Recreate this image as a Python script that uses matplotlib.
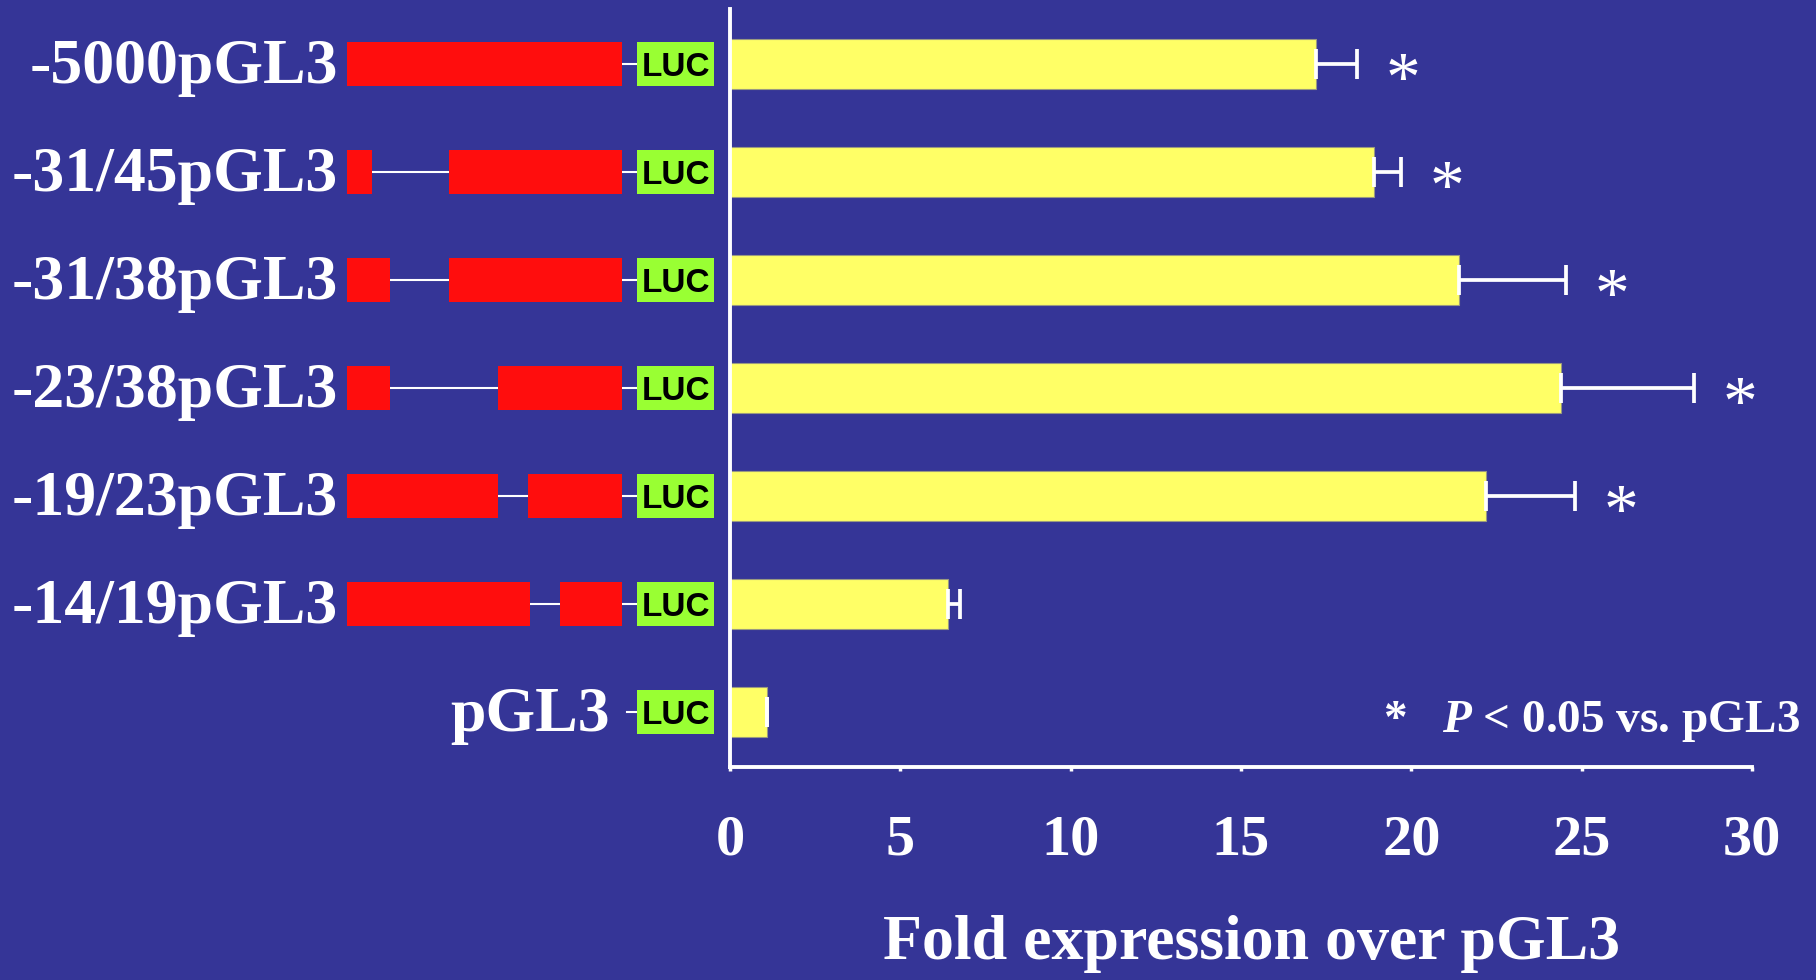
import matplotlib.pyplot as plt
from matplotlib.patches import Rectangle

plt.rcParams['mathtext.fontset'] = 'custom'
plt.rcParams['mathtext.it'] = 'Liberation Serif:italic:bold'
plt.rcParams['mathtext.rm'] = 'Liberation Serif:bold'

# data
constructs = ['-5000pGL3', '-31/45pGL3', '-31/38pGL3', '-23/38pGL3',
              '-19/23pGL3', '-14/19pGL3', 'pGL3']
fold = [17.2, 18.9, 21.4, 24.4, 22.2, 6.4, 1.1]
sem = [1.2, 0.8, 3.15, 3.9, 2.6, 0.35, 0.0]
significant = [True, True, True, True, True, False, False]

# promoter pieces kept in each construct (0-100 = full -5000 region)
promoter_parts = [
    [(0, 100)],
    [(0, 9), (37, 100)],
    [(0, 15.5), (37, 100)],
    [(0, 15.5), (55, 100)],
    [(0, 55), (66, 100)],
    [(0, 66.5), (77.5, 100)],
    [],
]
luc_start, luc_end = 105.5, 133.5

ticks = [0, 5, 10, 15, 20, 25, 30]

bg = '#353597'
red = '#ff0d0d'
green = '#99ff33'
yellow = '#ffff66'
serif = 'Liberation Serif'

fig = plt.figure(figsize=(18.16, 9.8), dpi=100, facecolor=bg)

rows = list(range(len(constructs)))

# bar chart
ax = fig.add_axes([730 / 1816, 213 / 980, 1022 / 1816, 758 / 980])
ax.set_facecolor(bg)
ax.barh(rows, fold, height=0.47, color=yellow, edgecolor='#9a9a80',
        linewidth=0.8, zorder=2)
ax.errorbar(fold, rows, xerr=[[0] * len(sem), sem], fmt='none',
            ecolor='white', elinewidth=2.7, capsize=10.5, capthick=2.7,
            zorder=3)
for r, v, e, s in zip(rows, fold, sem, significant):
    if s:
        ax.text(v + e + 1.35, r + 0.33, '*', color='white', fontsize=50,
                fontfamily=serif, fontweight='normal', ha='center',
                va='baseline')
ax.set_xlim(0, 30)
ax.set_ylim(6.51, -0.51)
ax.set_yticks([])
ax.set_xticks(ticks)
ax.set_xticklabels([str(t) for t in ticks], fontsize=42, fontfamily=serif,
                   fontweight='bold', color='white')
ax.tick_params(axis='x', direction='out', length=3, width=2.5,
               color='white', pad=31)
for side in ['top', 'right']:
    ax.spines[side].set_visible(False)
for side in ['left', 'bottom']:
    ax.spines[side].set_color('white')
    ax.spines[side].set_linewidth(2.8)
ax.set_xlabel('Fold expression over pGL3', fontsize=46, fontfamily=serif,
              fontweight='bold', color='white')
ax.xaxis.label.set_verticalalignment('baseline')
ax.xaxis.set_label_coords(0.51, -0.253)
ax.text(31.4, 6.19, '*   $P$ < 0.05 vs. pGL3', fontsize=34,
        fontfamily=serif, fontweight='bold', color='white', ha='right',
        va='baseline')

# construct diagrams
axc = fig.add_axes([347 / 1816, 213 / 980, 367 / 1816, 758 / 980])
axc.set_facecolor(bg)
axc.patch.set_alpha(0)
axc.set_xlim(0, luc_end)
axc.set_ylim(6.51, -0.51)
axc.axis('off')
for r, name, parts in zip(rows, constructs, promoter_parts):
    if parts:
        line_start = parts[0][0]
        label_x = -3.3
    else:
        line_start = 102
        label_x = 95.6
    axc.plot([line_start, luc_start], [r, r], color='white', lw=1.5, zorder=1)
    for a, b in parts:
        axc.add_patch(Rectangle((a, r - 0.2), b - a, 0.4, facecolor=red,
                                edgecolor='none', zorder=2))
    axc.add_patch(Rectangle((luc_start, r - 0.2), luc_end - luc_start, 0.4,
                            facecolor=green, edgecolor='none', zorder=2))
    axc.text((luc_start + luc_end) / 2, r, 'LUC', fontsize=24,
             fontfamily='Liberation Sans', fontweight='bold', color='black',
             ha='center', va='center_baseline', zorder=3)
    axc.text(label_x, r + 0.175, name, fontsize=46, fontfamily=serif,
             fontweight='bold', color='white', ha='right', va='baseline')

fig.savefig('out.png', dpi=100, facecolor=bg)
